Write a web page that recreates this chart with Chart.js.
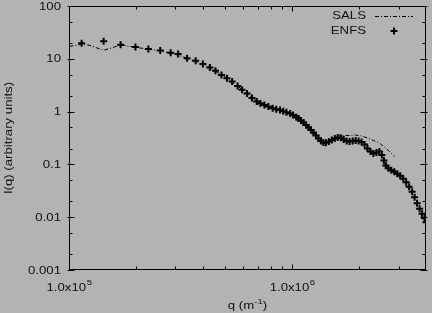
<!DOCTYPE html>
<html>
<head>
<meta charset="utf-8">
<script src="https://cdn.jsdelivr.net/npm/chart.js@4.4.1/dist/chart.umd.min.js"></script>
<style>
  html, body { margin: 0; padding: 0; background: #b3b3b3; }
  #wrap { width: 432px; height: 313px; position: relative; }
</style>
</head>
<body>
<div id="wrap"><canvas id="c" width="432" height="313"></canvas></div>
<script>
// ENFS data (q in m^-1, I arbitrary units)
const enfsQ = [1.139e5,1.430e5,1.703e5,1.985e5,2.268e5,2.564e5,2.855e5,3.083e5,3.381e5,3.695e5,
  3.981e5,4.277e5,4.533e5,4.822e5,5.105e5,5.384e5,5.696e5,5.965e5,6.278e5,6.607e5,
  6.94e5,7.21e5,7.51e5,7.82e5,8.18e5,8.49e5,8.82e5,9.12e5,9.43e5,9.80e5,
  1.010e6,1.045e6,1.069e6,1.096e6,1.125e6,1.154e6,1.184e6,1.215e6,1.246e6,1.279e6,
  1.312e6,1.346e6,1.380e6,1.416e6,1.460e6,1.506e6,1.553e6,1.601e6,1.651e6,1.702e6,
  1.756e6,1.810e6,1.867e6,1.925e6,1.985e6,2.047e6,2.111e6,2.176e6,2.244e6,2.314e6,
  2.386e6,2.461e6,2.524e6,2.577e6,2.630e6,2.698e6,2.782e6,2.870e6,2.959e6,3.051e6,
  3.146e6,3.244e6,3.345e6,3.449e6,3.538e6,3.631e6,3.725e6,3.822e6,3.921e6,3.981e6];
const enfsI = [19.8,21.4,18.4,16.7,15.4,14.4,13.0,12.3,10.2,9.17,
  7.98,6.86,5.94,4.95,4.29,3.72,3.05,2.60,2.19,1.80,
  1.56,1.43,1.33,1.25,1.16,1.11,1.076,1.02,0.97,0.917,
  0.859,0.780,0.738,0.676,0.620,0.556,0.499,0.448,0.402,0.352,
  0.310,0.278,0.260,0.258,0.272,0.290,0.310,0.323,0.318,0.296,
  0.278,0.272,0.278,0.284,0.278,0.266,0.238,0.200,0.176,0.161,
  0.168,0.176,0.151,0.119,0.0958,0.0841,0.0771,0.0722,0.0668,0.0607,
  0.0532,0.0457,0.0376,0.0303,0.0238,0.0184,0.0145,0.0116,0.00958,0.00805];

// SALS data
const salsQ = [1.005e5,1.074e5,1.142e5,1.240e5,1.332e5,1.430e5,1.553e5,1.703e5,1.867e5,2.068e5,
  2.291e5,2.538e5,2.811e5,3.113e5,3.449e5,3.821e5,4.233e5,4.690e5,5.195e5,5.754e5,
  6.375e5,7.062e5,7.823e5,8.666e5,9.60e5,1.063e6,1.178e6,1.305e6,1.373e6,1.445e6,
  1.521e6,1.601e6,1.702e6,1.810e6,1.925e6,2.047e6,2.176e6,2.314e6,2.461e6,2.585e6,
  2.698e6,2.870e6];
const salsI = [17.2,18.0,18.8,18.0,16.1,14.5,16.1,18.4,17.2,16.1,
  15.2,14.2,13.0,11.6,10.0,8.41,6.94,5.36,4.08,2.95,
  2.09,1.51,1.25,1.09,0.955,0.771,0.523,0.324,0.278,0.278,
  0.310,0.345,0.352,0.352,0.360,0.345,0.316,0.284,0.255,0.214,
  0.184,0.142];

const seriesNames = ['SALS', 'ENFS'];
const yMajorTicks = [0.001, 0.01, 0.1, 1, 10, 100];
const yTickLabels = ['0.001', '0.01', '0.1', '1', '10', '100'];
const xMajorTicks = [1e5, 1e6];
const xTickMantissa = ['1.0x10', '1.0x10'];
const xTickExponent = ['5', '6'];
const xTitle = ['q (m', '-1', ')'];
const yTitle = 'I(q) (arbitrary units)';

const FONT = '"Liberation Sans", Arial, sans-serif';
const SX = 1.2;

function sText(ctx, text, x, y, align, size, sx) {
  ctx.font = size + 'px ' + FONT;
  const w = ctx.measureText(text).width * sx;
  let left = x;
  if (align === 'right') left = x - w;
  else if (align === 'center') left = x - w / 2;
  ctx.save();
  ctx.translate(left, y);
  ctx.scale(sx, 1);
  ctx.textAlign = 'left';
  ctx.fillText(text, 0, 0);
  ctx.restore();
  return w;
}
function tw(ctx, text, size, sx) {
  ctx.font = size + 'px ' + FONT;
  return ctx.measureText(text).width * sx;
}

const frame = {
  id: 'frame',
  beforeDatasetsDraw(chart) {
    const ctx = chart.ctx;
    const a = chart.chartArea;
    const xs = chart.scales.x, ys = chart.scales.y;
    ctx.save();
    ctx.strokeStyle = '#000';
    ctx.lineWidth = 1;
    const L = Math.round(a.left) + 0.5, R = Math.round(a.right) - 0.5;
    const T = Math.round(a.top) + 0.5, B = Math.round(a.bottom) - 0.5;
    ctx.strokeRect(L, T, R - L, B - T);
    ctx.beginPath();
    // y ticks
    for (let e = -3; e <= 2; e++) {
      [1, 2, 5].forEach(m => {
        const v = m * Math.pow(10, e);
        if (v < 0.001 || v > 100) return;
        const py = Math.round(ys.getPixelForValue(v)) + 0.5;
        const len = m === 1 ? 5 : 3;
        ctx.moveTo(L - (m === 1 ? 2 : 0), py); ctx.lineTo(L + len, py);
        ctx.moveTo(R + (m === 1 ? 2 : 0), py); ctx.lineTo(R - len, py);
      });
    }
    // x ticks
    for (let e = 5; e <= 6; e++) {
      for (let m = 1; m <= 9; m++) {
        const v = m * Math.pow(10, e);
        if (v > xs.max) continue;
        const px = Math.round(xs.getPixelForValue(v)) + 0.5;
        const len = m === 1 ? 5 : 3;
        ctx.moveTo(px, B); ctx.lineTo(px, B - len);
        ctx.moveTo(px, T); ctx.lineTo(px, T + len);
      }
    }
    ctx.stroke();
    ctx.restore();
  },
  afterDraw(chart) {
    const ctx = chart.ctx;
    const a = chart.chartArea;
    const xs = chart.scales.x, ys = chart.scales.y;
    ctx.save();
    ctx.fillStyle = '#111';
    ctx.textBaseline = 'middle';
    // y tick labels
    yMajorTicks.forEach((v, i) => {
      const py = ys.getPixelForValue(v);
      sText(ctx, yTickLabels[i], 61, py + 0.5, 'right', 11, SX);
    });
    // x tick labels
    ctx.textBaseline = 'alphabetic';
    xMajorTicks.forEach((v, i) => {
      const px = xs.getPixelForValue(v);
      const w1 = tw(ctx, xTickMantissa[i], 11, SX);
      const w2 = tw(ctx, xTickExponent[i], 8, SX);
      const left = px - (w1 + w2) / 2;
      sText(ctx, xTickMantissa[i], left, 291, 'left', 11, SX);
      sText(ctx, xTickExponent[i], left + w1 + 0.5, 285, 'left', 8, SX);
    });
    // x title
    {
      const w1 = tw(ctx, xTitle[0], 11, SX);
      const w2 = tw(ctx, xTitle[1], 8, SX);
      const w3 = tw(ctx, xTitle[2], 11, SX);
      const cx = (a.left + a.right) / 2;
      let left = cx - (w1 + w2 + w3) / 2;
      sText(ctx, xTitle[0], left, 309, 'left', 11, SX);
      sText(ctx, xTitle[1], left + w1, 304, 'left', 8, SX);
      sText(ctx, xTitle[2], left + w1 + w2, 309, 'left', 11, SX);
    }
    // y title
    ctx.save();
    ctx.translate(12, (a.top + a.bottom) / 2);
    ctx.rotate(-Math.PI / 2);
    ctx.textBaseline = 'alphabetic';
    sText(ctx, yTitle, 0, 0, 'center', 11, SX);
    ctx.restore();
    // legend
    ctx.textBaseline = 'middle';
    sText(ctx, seriesNames[0], 366, 16, 'right', 11, SX);
    sText(ctx, seriesNames[1], 366, 31, 'right', 11, SX);
    ctx.strokeStyle = '#000';
    ctx.lineWidth = 1;
    ctx.setLineDash([4, 2, 1, 2]);
    ctx.beginPath();
    ctx.moveTo(375, 16.5); ctx.lineTo(413, 16.5);
    ctx.stroke();
    ctx.setLineDash([]);
    ctx.lineWidth = 2;
    ctx.beginPath();
    ctx.moveTo(390.5, 31); ctx.lineTo(397.5, 31);
    ctx.moveTo(394, 27.5); ctx.lineTo(394, 34.5);
    ctx.stroke();
    ctx.restore();
  }
};

new Chart(document.getElementById('c'), {
  type: 'scatter',
  data: {
    datasets: [
      {
        label: seriesNames[0],
        data: salsQ.map((q, i) => ({ x: q, y: salsI[i] })),
        showLine: true,
        borderColor: '#000',
        borderWidth: 1,
        borderDash: [4, 2, 1, 2],
        pointRadius: 0,
        fill: false,
        tension: 0
      },
      {
        label: seriesNames[1],
        data: enfsQ.map((q, i) => ({ x: q, y: enfsI[i] })),
        showLine: false,
        pointStyle: 'cross',
        pointRadius: 3.5,
        pointBorderWidth: 2,
        borderColor: '#000',
        backgroundColor: '#000'
      }
    ]
  },
  options: {
    responsive: false,
    animation: false,
    devicePixelRatio: 1,
    layout: { padding: { top: 5, right: 3, left: 0, bottom: 0 } },
    plugins: { legend: { display: false }, tooltip: { enabled: false } },
    scales: {
      x: {
        type: 'logarithmic', min: 1e5, max: 3.98e6,
        grid: { display: false }, border: { display: false },
        ticks: { display: false },
        afterFit: s => { s.height = 43; }
      },
      y: {
        type: 'logarithmic', min: 0.001, max: 100,
        grid: { display: false }, border: { display: false },
        ticks: { display: false },
        afterFit: s => { s.width = 69; }
      }
    }
  },
  plugins: [frame]
});
</script>
</body>
</html>
